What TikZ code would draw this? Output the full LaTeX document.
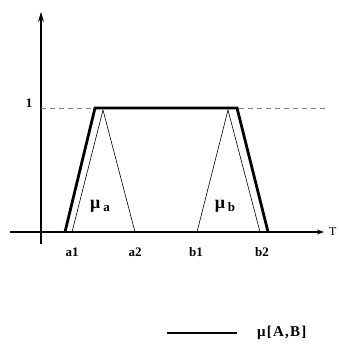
\documentclass[tikz,border=0pt]{standalone}
\usepackage{fontspec}
\setmainfont{Liberation Serif}
\usetikzlibrary{arrows.meta}
\begin{document}
\begin{tikzpicture}[x=1pt,y=-1pt,
  axis/.style={line width=1.1pt},
  thin/.style={line width=0.6pt},
  thickline/.style={line width=2.8pt, line join=miter},
  lbl/.style={font=\bfseries\fontsize{13}{14}\selectfont, inner sep=0pt},
  mulbl/.style={font=\bfseries\fontsize{18}{20}\selectfont, inner sep=0pt}]
\useasboundingbox (0,0) rectangle (338,347);
% axes
\coordinate (xs) at (10,232);
\coordinate (xe) at (324,232);
\coordinate (ys) at (41,244);
\coordinate (ye) at (41,12);
\draw[axis,-{Stealth[length=7pt,width=5pt]}] (xs) -- (xe);
\draw[axis,-{Stealth[length=10pt,width=6pt]}] (ys) -- (ye);
\node[font=\fontsize{12}{12}\selectfont, anchor=west, inner sep=0pt] (T) at (329,232) {T};
\node[lbl] (one) at (29,103) {1};
\coordinate (d0) at (41,108);
\coordinate (d1) at (326,108);
\draw[thin, gray, dashed, dash pattern=on 5pt off 4pt] (d0) -- (d1);
% triangles
\coordinate (a1) at (72,232);
\coordinate (ap) at (103,110);
\coordinate (a2) at (135,232);
\coordinate (b1) at (197,232);
\coordinate (bp) at (228,110);
\coordinate (b2) at (260,232);
\draw[thin] (a1) -- (ap) -- (a2);
\draw[thin] (b1) -- (bp) -- (b2);
% thick trapezoid
\coordinate (t1) at (65,232);
\coordinate (t2) at (95,108);
\coordinate (t3) at (237,108);
\coordinate (t4) at (268,232);
\draw[thickline] (t1) -- (t2) -- (t3) -- (t4);
% labels
\node[mulbl] (mua) at (100,206) {μ\,\raisebox{-3pt}{\fontsize{13}{14}\selectfont a}};
\node[mulbl] (mub) at (225,206) {μ\,\raisebox{-3pt}{\fontsize{13}{14}\selectfont b}};
\node[lbl] (la1) at (72,252) {a1};
\node[lbl] (la2) at (135,252) {a2};
\node[lbl] (lb1) at (196,252) {b1};
\node[lbl] (lb2) at (262,252) {b2};
% legend
\coordinate (l0) at (167,333);
\coordinate (l1) at (237,333);
\draw[thickline] (l0) -- (l1);
\node[lbl, font=\bfseries\fontsize{15}{16}\selectfont\addfontfeatures{LetterSpace=8}, anchor=west] (leg) at (257,333) {μ[A,B]};
\end{tikzpicture}
\end{document}
